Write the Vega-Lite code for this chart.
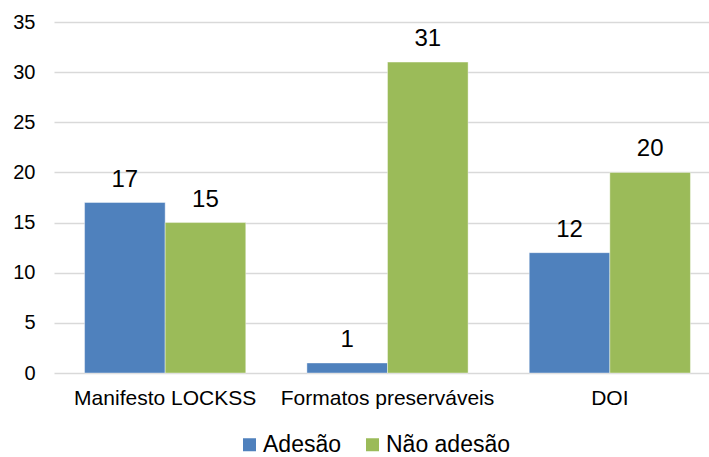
{
  "$schema": "https://vega.github.io/schema/vega-lite/v6.json",
  "width": 655,
  "height": 351,
  "autosize": {"type": "none"},
  "padding": {"left": 54, "top": 22, "right": 0, "bottom": 84},
  "background": "white",
  "config": {
    "font": "Liberation Sans",
    "view": {"stroke": null}
  },
  "data": {
    "values": [
      {"categoria": "Manifesto LOCKSS", "serie": "Adesão", "valor": 17},
      {"categoria": "Manifesto LOCKSS", "serie": "Não adesão", "valor": 15},
      {"categoria": "Formatos preserváveis", "serie": "Adesão", "valor": 1},
      {"categoria": "Formatos preserváveis", "serie": "Não adesão", "valor": 31},
      {"categoria": "DOI", "serie": "Adesão", "valor": 12},
      {"categoria": "DOI", "serie": "Não adesão", "valor": 20}
    ]
  },
  "encoding": {
    "x": {
      "field": "categoria",
      "type": "nominal",
      "sort": ["Manifesto LOCKSS", "Formatos preserváveis", "DOI"],
      "scale": {"paddingInner": 0.275, "paddingOuter": 0.1375, "range": [0, 667]},
      "axis": {
        "title": null,
        "labelAngle": 0,
        "labelFontSize": 21,
        "labelColor": "#000000",
        "labelPadding": 14,
        "labelLimit": 0,
        "domain": false,
        "ticks": false
      }
    },
    "xOffset": {"field": "serie", "type": "nominal", "sort": ["Adesão", "Não adesão"]},
    "y": {
      "field": "valor",
      "type": "quantitative",
      "scale": {"domain": [0, 35]},
      "axis": {
        "title": null,
        "values": [0, 5, 10, 15, 20, 25, 30, 35],
        "labelFontSize": 20,
        "labelColor": "#000000",
        "labelPadding": 19,
        "domain": false,
        "ticks": false,
        "gridColor": "#D9D9D9",
        "gridWidth": 1.5
      }
    }
  },
  "layer": [
    {
      "mark": {"type": "bar", "stroke": "#FFFFFF", "strokeOpacity": 0.4, "strokeWidth": 1},
      "encoding": {
        "color": {
          "field": "serie",
          "type": "nominal",
          "sort": ["Adesão", "Não adesão"],
          "scale": {"domain": ["Adesão", "Não adesão"], "range": ["#4F81BD", "#9BBB59"]},
          "legend": {
            "title": null,
            "orient": "none",
            "legendX": 184,
            "legendY": 411,
            "direction": "horizontal",
            "symbolType": "square",
            "symbolSize": 169,
            "symbolStrokeWidth": 0,
            "symbolOpacity": 1,
            "labelFontSize": 23,
            "labelLimit": 0,
            "labelColor": "#000000",
            "columnPadding": 19,
            "labelOffset": 2
          }
        }
      }
    },
    {
      "mark": {"type": "text", "baseline": "alphabetic", "dy": -16, "fontSize": 24, "color": "#000000"},
      "encoding": {
        "text": {"field": "valor", "type": "quantitative"}
      }
    }
  ]
}
